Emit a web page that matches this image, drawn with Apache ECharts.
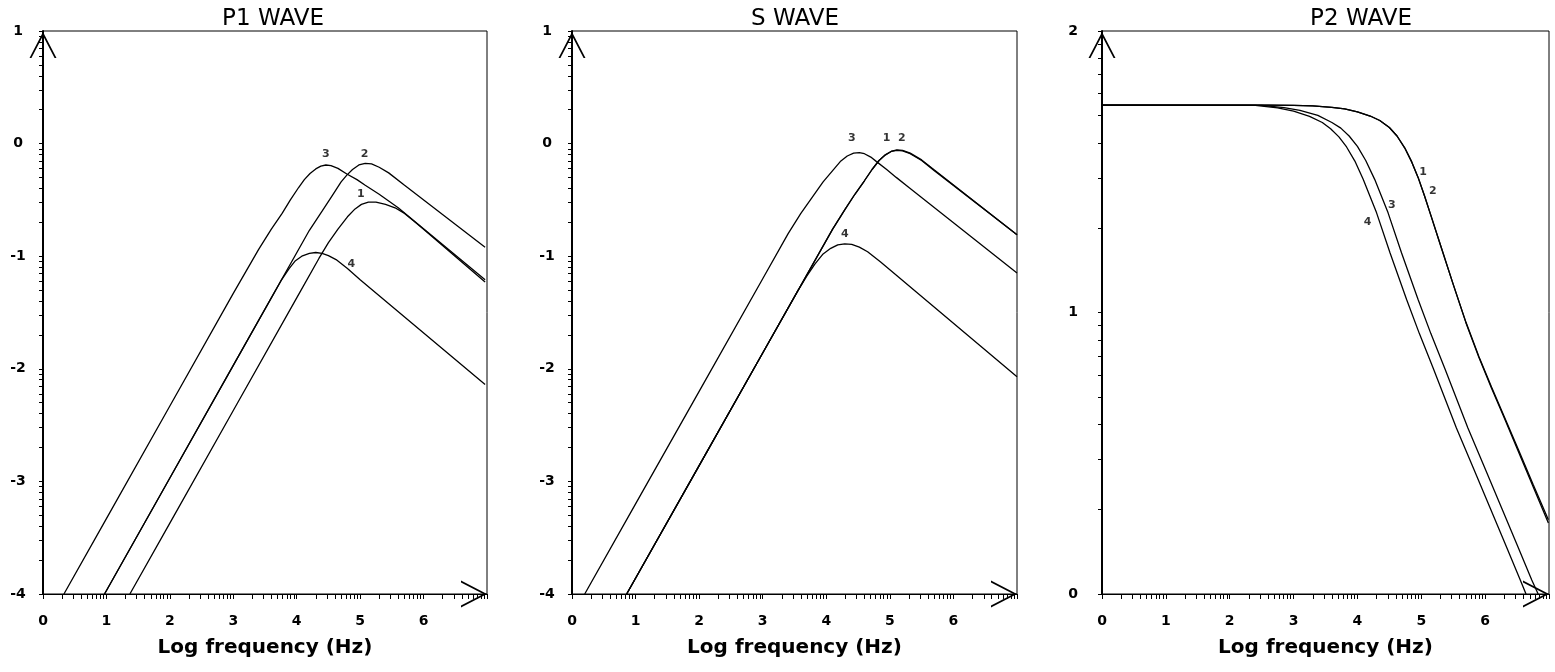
<!DOCTYPE html>
<html><head><meta charset="utf-8">
<script src="https://cdn.jsdelivr.net/npm/echarts@6/dist/echarts.min.js"></script>
<style>html,body{margin:0;padding:0;background:#fff}#chart{width:1555px;height:672px}</style>
</head><body><div id="chart"></div>
<script>
// ---------- text ----------
const panelTitles = ['P1 WAVE', 'S WAVE', 'P2 WAVE'];
const xAxisName = 'Log frequency (Hz)';
const xTickLabels = [0, 1, 2, 3, 4, 5, 6];
const yTickLabelsP1 = [-4, -3, -2, -1, 0, 1];
const yTickLabelsS = [-4, -3, -2, -1, 0, 1];
const yTickLabelsP2 = [0, 1, 2];
const logMinorFractions = [0.301, 0.477, 0.602, 0.699, 0.778, 0.845, 0.903, 0.954];

// ---------- P1 wave: [log f, log amplitude] ----------
const p1Curve1 = [[1.37,-4],[2,-3.37],[3,-2.37],[4,-1.37],[4.35,-1.02],[4.5,-0.88],[4.65,-0.76],[4.8,-0.65],[4.92,-0.58],[5.02,-0.54],[5.13,-0.52],[5.25,-0.52],[5.4,-0.54],[5.55,-0.57],[5.7,-0.62],[5.85,-0.69],[6.0,-0.76],[6.97,-1.23]];
const p1Curve2 = [[0.97,-4],[2,-2.97],[3,-1.97],[4.2,-0.77],[4.4,-0.6],[4.55,-0.47],[4.7,-0.34],[4.79,-0.28],[4.88,-0.23],[4.98,-0.19],[5.08,-0.175],[5.18,-0.18],[5.3,-0.21],[5.45,-0.26],[5.7,-0.37],[6.97,-0.92]];
const p1Curve3 = [[0.33,-4],[1,-3.33],[2,-2.33],[3,-1.33],[3.4,-0.94],[3.6,-0.76],[3.77,-0.62],[3.9,-0.5],[4.03,-0.39],[4.12,-0.32],[4.21,-0.265],[4.3,-0.225],[4.38,-0.2],[4.46,-0.19],[4.54,-0.195],[4.65,-0.22],[4.79,-0.27],[4.95,-0.32],[5.08,-0.37],[5.3,-0.45],[5.6,-0.57],[6.97,-1.21]];
const p1Curve4 = [[0.97,-4],[2,-2.97],[3,-1.97],[3.6,-1.37],[3.75,-1.22],[3.88,-1.11],[3.98,-1.04],[4.08,-1.0],[4.2,-0.975],[4.3,-0.967],[4.4,-0.975],[4.5,-0.995],[4.62,-1.03],[4.8,-1.11],[5.0,-1.21],[6.97,-2.14]];
const p1CurveLabels = [['3',4.46,-0.09],['2',5.07,-0.09],['1',5.01,-0.45],['4',4.86,-1.07]];

// ---------- S wave ----------
const sCurve1 = [[0.86,-4],[2,-2.86],[3,-1.86],[4.1,-0.76],[4.3,-0.58],[4.45,-0.45],[4.6,-0.33],[4.72,-0.23],[4.83,-0.15],[4.93,-0.1],[5.02,-0.07],[5.11,-0.06],[5.2,-0.065],[5.32,-0.09],[5.5,-0.15],[5.7,-0.24],[7.0,-0.81]];
const sCurve2 = [[0.86,-4],[2,-2.86],[3,-1.86],[4.1,-0.76],[4.3,-0.58],[4.45,-0.45],[4.6,-0.33],[4.72,-0.23],[4.83,-0.15],[4.93,-0.1],[5.02,-0.07],[5.11,-0.055],[5.2,-0.06],[5.32,-0.085],[5.5,-0.145],[5.7,-0.235],[7.0,-0.81]];
const sCurve3 = [[0.2,-4],[1,-3.2],[2,-2.2],[3,-1.2],[3.4,-0.8],[3.6,-0.62],[3.8,-0.46],[3.95,-0.34],[4.1,-0.24],[4.22,-0.16],[4.33,-0.11],[4.43,-0.085],[4.52,-0.08],[4.6,-0.09],[4.7,-0.12],[4.79,-0.16],[4.95,-0.23],[5.1,-0.3],[5.3,-0.39],[7.0,-1.15]];
const sCurve4 = [[0.86,-4],[2,-2.86],[3,-1.86],[3.55,-1.31],[3.69,-1.18],[3.82,-1.07],[3.95,-0.98],[4.07,-0.93],[4.18,-0.9],[4.29,-0.89],[4.4,-0.895],[4.52,-0.92],[4.65,-0.96],[4.85,-1.05],[5.0,-1.12],[7.0,-2.07]];
const sCurveLabels = [['3',4.4,0.045],['1',4.95,0.045],['2',5.19,0.045],['4',4.29,-0.805]];

// ---------- P2 wave ----------
const p2Curve1 = [[0,1.737],[2.6,1.737],[3.0,1.736],[3.3,1.734],[3.6,1.729],[3.8,1.723],[4.0,1.713],[4.2,1.698],[4.35,1.682],[4.5,1.657],[4.62,1.627],[4.74,1.585],[4.85,1.535],[4.95,1.48],[5.05,1.415],[5.15,1.345],[5.3,1.24],[5.5,1.1],[5.7,0.965],[5.9,0.845],[6.1,0.735],[6.3,0.63],[6.52,0.513],[6.75,0.39],[6.99,0.264]];
const p2Curve2 = [[0,1.737],[2.6,1.737],[3.0,1.736],[3.3,1.734],[3.6,1.729],[3.8,1.723],[4.0,1.713],[4.2,1.698],[4.35,1.682],[4.5,1.657],[4.62,1.627],[4.74,1.585],[4.85,1.535],[4.95,1.48],[5.05,1.415],[5.15,1.345],[5.3,1.24],[5.5,1.1],[5.7,0.963],[5.9,0.842],[6.1,0.731],[6.3,0.625],[6.52,0.506],[6.75,0.382],[6.99,0.252]];
const p2Curve3 = [[0,1.737],[2.5,1.736],[2.85,1.728],[3.1,1.718],[3.38,1.70],[3.6,1.675],[3.74,1.655],[3.87,1.627],[4.0,1.59],[4.13,1.54],[4.27,1.473],[4.48,1.354],[4.69,1.212],[4.95,1.046],[5.15,0.925],[5.37,0.8],[5.73,0.59],[6.0,0.445],[6.26,0.305],[6.5,0.175],[6.73,0.05],[6.83,0.0]];
const p2Curve4 = [[0,1.737],[2.4,1.736],[2.75,1.727],[3.0,1.715],[3.25,1.697],[3.45,1.675],[3.58,1.653],[3.71,1.624],[3.83,1.588],[3.96,1.538],[4.09,1.473],[4.3,1.354],[4.51,1.212],[4.77,1.046],[4.97,0.925],[5.19,0.8],[5.55,0.59],[5.82,0.445],[6.08,0.305],[6.32,0.175],[6.55,0.05],[6.64,0.0]];
const p2CurveLabels = [['1',5.03,1.50],['2',5.18,1.43],['3',4.54,1.38],['4',4.16,1.32]];

// ---------- build ----------
function minorTicks(lo, hi) {
  const out = [];
  for (let n = lo; n < hi; n++) {
    out.push(n);
    logMinorFractions.forEach(f => out.push(n + f));
  }
  out.push(hi);
  return out;
}
const arrowPath = 'path://M14,0 L0,27 L2,27 L14,3.8 L26,27 L28,27 Z';
const FONT = 'DejaVu Sans';

const panels = [
  { title: panelTitles[0], titleX: 268, grid: {left: 43, top: 31, width: 444, height: 563},
    yMin: -4, yMax: 1, yLabels: yTickLabelsP1, yMargin: 25,
    curves: [p1Curve1, p1Curve2, p1Curve3, p1Curve4], labels: p1CurveLabels },
  { title: panelTitles[1], titleX: 790, grid: {left: 572, top: 31, width: 445, height: 563},
    yMin: -4, yMax: 1, yLabels: yTickLabelsS, yMargin: 25,
    curves: [sCurve1, sCurve2, sCurve3, sCurve4], labels: sCurveLabels },
  { title: panelTitles[2], titleX: 1356, grid: {left: 1102, top: 31, width: 447, height: 563},
    yMin: 0, yMax: 2, yLabels: yTickLabelsP2, yMargin: 29,
    curves: [p2Curve1, p2Curve2, p2Curve3, p2Curve4], labels: p2CurveLabels }
];

const option = {
  animation: false,
  backgroundColor: '#fff',
  title: [], grid: [], xAxis: [], yAxis: [], series: []
};

panels.forEach((p, i) => {
  option.title.push({
    text: p.title, left: p.titleX, top: 3, textAlign: 'center',
    textStyle: {fontFamily: FONT, fontSize: 23, fontWeight: 'normal', color: '#000'}
  });
  option.grid.push(Object.assign({show: true, borderColor: '#000', borderWidth: 1, backgroundColor: 'transparent'}, p.grid));
  option.xAxis.push({
    gridIndex: i, type: 'value', min: 0, max: 7,
    name: xAxisName, nameLocation: 'middle', nameGap: 44,
    nameTextStyle: {fontFamily: FONT, fontSize: 20, fontWeight: 'bold', color: '#000'},
    splitLine: {show: false},
    axisLine: {show: true, onZero: false, lineStyle: {color: '#000', width: 1.2},
      symbol: ['none', arrowPath], symbolSize: [30, 26], symbolOffset: [0, -13]},
    axisTick: {show: true, inside: false, length: 5, customValues: minorTicks(0, 7),
      lineStyle: {color: '#000', width: 1}},
    axisLabel: {customValues: xTickLabels, margin: 20, fontFamily: FONT, fontSize: 14, fontWeight: 'bold', color: '#000'}
  });
  option.yAxis.push({
    gridIndex: i, type: 'value', min: p.yMin, max: p.yMax,
    splitLine: {show: false},
    axisLine: {show: true, onZero: false, lineStyle: {color: '#000', width: 2},
      symbol: ['none', arrowPath], symbolSize: [27, 28], symbolOffset: [0, -14]},
    axisTick: {show: true, inside: false, length: 4, customValues: minorTicks(p.yMin, p.yMax),
      lineStyle: {color: '#000', width: 1}},
    axisLabel: {customValues: p.yLabels, margin: p.yMargin, align: 'center',
      fontFamily: FONT, fontSize: 14, fontWeight: 'bold', color: '#000'}
  });
  p.curves.forEach(c => {
    option.series.push({
      type: 'line', xAxisIndex: i, yAxisIndex: i, data: c,
      showSymbol: false, symbol: 'none', smooth: false,
      lineStyle: {color: '#000', width: 1.3}, silent: true
    });
  });
  option.series.push({
    type: 'scatter', xAxisIndex: i, yAxisIndex: i, symbolSize: 1,
    itemStyle: {color: 'rgba(0,0,0,0)'}, silent: true,
    data: p.labels.map(l => ({name: l[0], value: [l[1], l[2]]})),
    label: {show: true, position: 'inside', formatter: '{b}',
      fontFamily: FONT, fontSize: 11, fontWeight: 'bold', color: '#000'}
  });
});

const chart = echarts.init(document.getElementById('chart'));
chart.setOption(option);
</script>
</body></html>
